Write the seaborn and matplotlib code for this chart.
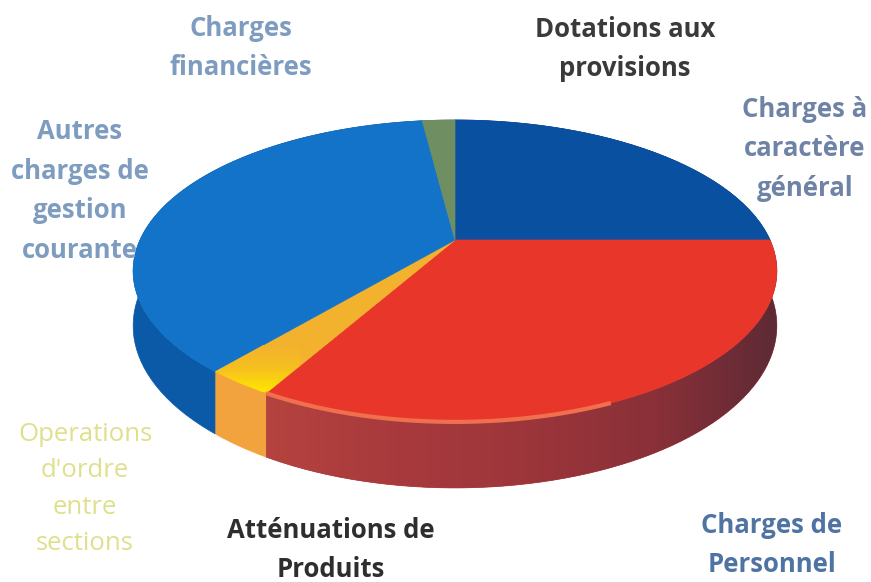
import numpy as np
import seaborn as sns
import matplotlib.pyplot as plt
from matplotlib.colors import LinearSegmentedColormap
from matplotlib.patches import Polygon
from matplotlib.transforms import Affine2D

categories=["Charges à\ncaractère\ngénéral","Charges de\nPersonnel",
    "Atténuations de\nProduits","Operations\nd'ordre\nentre\nsections",
    "Autres\ncharges de\ngestion\ncourante","Charges\nfinancières",
    "Dotations aux\nprovisions"]
values=[25.0,33.2,0.0,2.9,36.9,2.0,0.0]
top_colors=["#0a50a0","#e8362b","#000000","#f3b22e","#1273c9","#6f8e62","#000000"]
wall_colors=["#083f80","#a83a3c","#000000","#f2a33e","#0b5aa8","#55704c","#000000"]
label_colors=["#6f83a6","#4f74a3","#2e2e2e","#dfe08c","#7e9cc0","#7e9cc0","#3a3a3a"]
label_weights=["bold","bold","bold","normal","bold","bold","bold"]
label_x=[805,772,331,85,80,241,625]
label_y=[149,545,550,489,191,48,49]

sns.set_theme(style="white")
plt.rcParams["font.family"]=["Open Sans","DejaVu Sans"]

#disc seen in perspective
cx,cy=455,240
rx,a,k=315,144.6,0.205
depth=52.5

def proj(p,drop=0):
    d=1+k*p[:,1]
    return np.column_stack((cx+rx*p[:,0]/d,cy+(drop-a*p[:,1])/d))

fg=plt.figure(figsize=(8.71,5.82),dpi=100)
ax=fg.add_axes([0,0,1,1])
wedges,_=ax.pie(values,colors=sns.color_palette(top_colors),
    startangle=90,counterclock=False)

tops=[]
for w,v,tc,wc in zip(wedges,values,top_colors,wall_colors):
    w.set_visible(False)
    if v==0:
        continue
    #scale up so the arc is flattened finely
    pts=w.get_path().to_polygons(Affine2D().scale(500))[0]/500
    #the polygon goes arc, centre, back to arc start: keep only the arc
    centre=np.argmin(np.hypot(pts[:,0],pts[:,1]))
    rim=proj(pts[:centre])
    wall=np.vstack((rim,proj(pts[:centre],depth)[::-1]))
    wall_patch=Polygon(wall,closed=True,fc=wc,ec=wc,lw=.5,zorder=2)
    ax.add_patch(wall_patch)
    tops.append((proj(pts),rim,tc))
    #red wall darkens towards the right
    if tc=="#e8362b":
        cm=LinearSegmentedColormap.from_list("wall",
            ["#b5433f","#a83a3d","#9c363b","#8a3038","#5a2a35"])
        im=ax.imshow(np.linspace(0,1,256)[None,:],cmap=cm,aspect="auto",
            extent=(265,785,500,250),zorder=2.5)
        im.set_clip_path(wall_patch)

for poly,rim,tc in tops:
    top_patch=Polygon(poly,closed=True,fc=tc,ec=tc,lw=.5,zorder=3)
    ax.add_patch(top_patch)
    if tc=="#f3b22e":
        cm=LinearSegmentedColormap.from_list("top",["#f3b22e","#f6c01e","#ffe600"])
        im=ax.imshow(np.linspace(0,1,64)[:,None],cmap=cm,aspect="auto",
            extent=(200,300,392,345),origin="upper",zorder=3.5)
        im.set_clip_path(top_patch)
    if tc=="#e8362b":
        #light edge only on the left part of the front
        front=rim[rim[:,0]<620]
        ax.plot(front[:,0],front[:,1],c="#f0704e",lw=3,zorder=4,solid_capstyle="butt")

for s,x,y,c,fw in zip(categories,label_x,label_y,label_colors,label_weights):
    ax.text(x,y,s,color=c,ha="center",va="center",ma="center",
        fontsize=18.5,fontweight=fw,linespacing=1.6,zorder=5)

ax.set_aspect("auto")
ax.set_xlim(0,871)
ax.set_ylim(582,0)
ax.axis("off")
fg.savefig("out.png",dpi=100)
